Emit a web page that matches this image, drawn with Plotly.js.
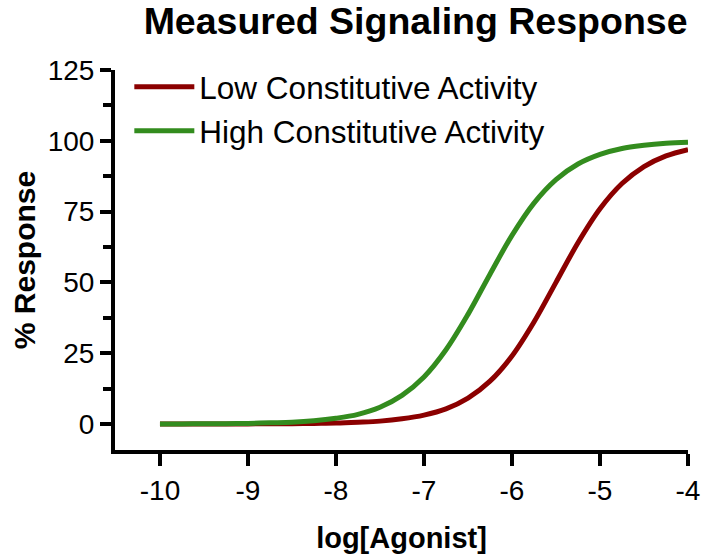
<!DOCTYPE html>
<html>
<head>
<meta charset="utf-8">
<script src="https://cdn.plot.ly/plotly-3.0.1.min.js"></script>
<style>html,body{margin:0;padding:0;background:#fff;}#chart{width:702px;height:555px;}</style>
</head>
<body>
<div id="chart"></div>
<script>
// log[Agonist] values
const logAgonist = [-10, -9.75, -9.5, -9.25, -9, -8.75, -8.5, -8.25, -8, -7.75, -7.5, -7.25, -7,
  -6.75, -6.5, -6.25, -6, -5.75, -5.5, -5.25, -5, -4.75, -4.5, -4.25, -4];
// % Response, low constitutive activity (red)
const lowResponse = [0, 0, 0, 0, 0, 0.1, 0.1, 0.2, 0.3, 0.6, 1.0, 1.8, 3.1,
  5.3, 9.1, 15.1, 24.0, 36.0, 50.0, 64.0, 76.0, 84.9, 90.9, 94.7, 96.9];
// % Response, high constitutive activity (green)
const highResponse = [0, 0, 0.1, 0.1, 0.2, 0.4, 0.6, 1.1, 2.0, 3.4, 5.9, 10.1, 16.6,
  26.2, 38.7, 52.9, 66.6, 78.0, 86.3, 91.8, 95.2, 97.3, 98.4, 99.1, 99.5];
const seriesNames = ["Low Constitutive Activity", "High Constitutive Activity"];
const xTicks = [-10, -9, -8, -7, -6, -5, -4];
const yTicks = [0, 25, 50, 75, 100, 125];

const FONT = "Liberation Sans, Arial, Helvetica, sans-serif";

const traces = [
  {x: logAgonist, y: lowResponse, name: seriesNames[0], mode: "lines",
   line: {color: "#8b0000", width: 5, shape: "spline"}},
  {x: logAgonist, y: highResponse, name: seriesNames[1], mode: "lines",
   line: {color: "#338c1e", width: 5, shape: "spline"}}
];

const layout = {
  width: 702, height: 555,
  margin: {l: 115, r: 14, t: 70, b: 105},
  paper_bgcolor: "#fff", plot_bgcolor: "#fff",
  font: {family: FONT, color: "#000"},
  title: {text: "<b>Measured Signaling Response</b>", font: {size: 37.5, family: FONT, color: "#000"},
          xref: "container", x: 0.592, xanchor: "center", yref: "container", y: 0.962, yanchor: "middle"},
  showlegend: true,
  legend: {x: 0.025, y: 1.027, xanchor: "left", yanchor: "top", bgcolor: "rgba(0,0,0,0)",
           font: {size: 31.5, family: FONT, color: "#000"}, itemwidth: 60, tracegroupgap: 0},
  xaxis: {range: [-10.511, -4], tickvals: xTicks, ticktext: xTicks.map(String),
          showgrid: false, zeroline: false, showline: true, linewidth: 4, linecolor: "#000",
          ticks: "outside", ticklen: 12, tickwidth: 4, tickcolor: "#000",
          tickfont: {size: 28, family: FONT, color: "#000"},
          title: {text: "<b>log[Agonist]</b>", font: {size: 29, family: FONT, color: "#000"}, standoff: 24}},
  yaxis: {range: [-9.2, 125], tickvals: yTicks, ticktext: yTicks.map(String),
          showgrid: false, zeroline: false, showline: true, linewidth: 4, linecolor: "#000",
          ticks: "outside", ticklen: 11, tickwidth: 4, tickcolor: "#000",
          minor: {tickvals: [12.5, 37.5, 62.5, 87.5, 112.5], ticks: "outside", ticklen: 8, tickwidth: 4, tickcolor: "#000", showgrid: false},
          tickfont: {size: 28, family: FONT, color: "#000"},
          title: {text: "<b>% Response</b>", font: {size: 30, family: FONT, color: "#000"}, standoff: 4}}
};

Plotly.newPlot("chart", traces, layout, {displayModeBar: false, staticPlot: true});
</script>
</body>
</html>
